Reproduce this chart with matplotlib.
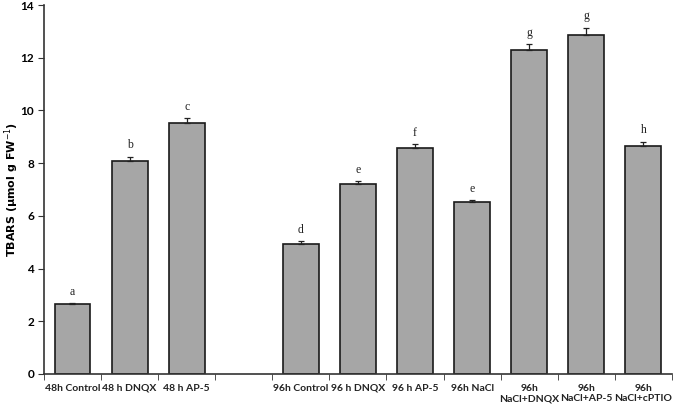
import numpy as np
import matplotlib.pyplot as plt

labels = ['48h Control', '48 h DNQX', '48 h AP-5', '',
          '96h Control', '96 h DNQX', '96 h AP-5', '96h NaCl',
          '96h\nNaCl+DNQX', '96h\nNaCl+AP-5', '96h\nNaCl+cPTIO']
values = [2.64, 8.09, 9.52, None, 4.94, 7.21, 8.57, 6.51, 12.28, 12.87, 8.66]
errors = [0.06, 0.16, 0.18, None, 0.1, 0.12, 0.15, 0.1, 0.25, 0.27, 0.16]
letters = ['a', 'b', 'c', '', 'd', 'e', 'f', 'e', 'g', 'g', 'h']

plt.rcParams['font.family'] = ['Lato', 'DejaVu Sans']

fig = plt.figure(figsize=(6.76, 4.09), dpi=100)
ax = fig.add_axes([0.065, 0.0856, 0.929, 0.902])

x = np.arange(len(labels))
idx = [i for i, v in enumerate(values) if v is not None]
xs = x[idx]
vs = np.array([values[i] for i in idx])
es = np.array([errors[i] for i in idx])
ax.bar(xs, vs, width=0.63, color='#a6a6a6', edgecolor='#1a1a1a', linewidth=1.2, zorder=2)
ax.errorbar(xs, vs, yerr=[np.zeros(len(xs)), es], fmt='none', ecolor='#222222',
            elinewidth=0.9, capsize=2.5, capthick=0.9, zorder=3)
for xi, v, e, i in zip(xs, vs, es, idx):
    ax.text(xi, v + e + 0.2, letters[i], ha='center', va='bottom', fontsize=8.5,
            family='Liberation Serif', color='#222222')

ax.set_xlim(-0.5, len(labels) - 0.5)
ax.set_ylim(0, 14)
ax.set_yticks(range(0, 15, 2))
ax.set_xticks(x)
ax.set_xticklabels(labels, fontsize=7.5, fontweight='bold', color='#222222',
                   multialignment='center')
ax.tick_params(axis='x', length=0, pad=7)
ax.set_xticks(np.arange(-0.5, len(labels), 1), minor=True)
ax.tick_params(axis='x', which='minor', length=4, direction='out', color='#333333')
ax.tick_params(axis='y', length=4, direction='out', labelsize=8.5, color='#333333', pad=3)
for t in ax.get_yticklabels():
    t.set_fontweight('bold')
fig.text(0.017, 0.536, 'TBARS (µmol g FW$^{-1}$)', rotation=90, ha='center', va='center',
         fontsize=8, fontweight='bold', family='DejaVu Sans')
for s in ['top', 'right']:
    ax.spines[s].set_visible(False)
for s in ['left', 'bottom']:
    ax.spines[s].set_color('#333333')
    ax.spines[s].set_linewidth(1.2)

fig.savefig('out.png', dpi=100)
